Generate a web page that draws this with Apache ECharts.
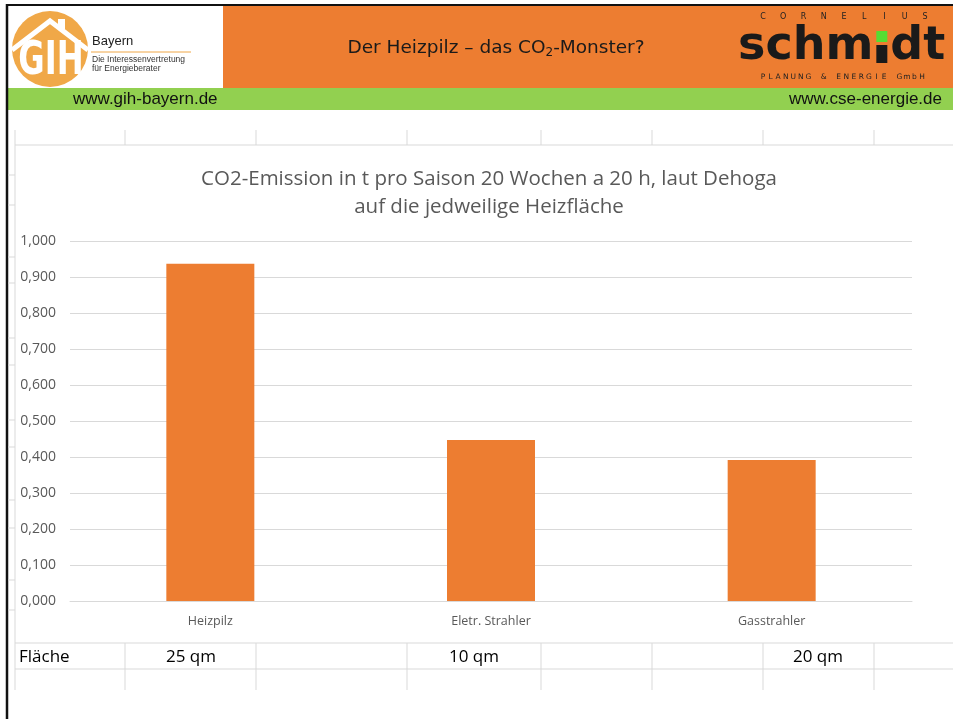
<!DOCTYPE html>
<html>
<head>
<meta charset="utf-8">
<script src="https://cdn.jsdelivr.net/npm/echarts@6/dist/echarts.min.js"></script>
<style>
  html, body { margin: 0; padding: 0; background: #fff; }
  #main { width: 953px; height: 719px; }
</style>
</head>
<body>
<div id="main"></div>
<script>
// Daten
var kategorien = ['Heizpilz', 'Eletr. Strahler', 'Gasstrahler'];
var emission = [0.937, 0.447, 0.392];
var flaeche = ['25 qm', '10 qm', '20 qm'];
var yTicks = [0, 0.1, 0.2, 0.3, 0.4, 0.5, 0.6, 0.7, 0.8, 0.9, 1.0];

var myChart = echarts.init(document.getElementById('main'));

var grau = '#d9d9d9';
var orange = '#ED7D31';
var gruen = '#92D050';

// Tabellenraster (Excel-Zellen rund um das Diagramm)
var spalten = [15, 125, 256, 407, 541, 652, 763, 874];
var raster = [];
spalten.forEach(function (x) {
  raster.push({ type: 'line', shape: { x1: x, y1: 130, x2: x, y2: 145 }, style: { stroke: grau, lineWidth: 1 } });
  raster.push({ type: 'line', shape: { x1: x, y1: 643, x2: x, y2: 690 }, style: { stroke: grau, lineWidth: 1 } });
});
raster.push({ type: 'line', shape: { x1: 15, y1: 145, x2: 953, y2: 145 }, style: { stroke: grau, lineWidth: 1 } });
raster.push({ type: 'line', shape: { x1: 15, y1: 145, x2: 15, y2: 643 }, style: { stroke: grau, lineWidth: 1 } });
raster.push({ type: 'line', shape: { x1: 15, y1: 643, x2: 953, y2: 643 }, style: { stroke: grau, lineWidth: 1 } });
raster.push({ type: 'line', shape: { x1: 15, y1: 669, x2: 953, y2: 669 }, style: { stroke: grau, lineWidth: 1 } });
// kleine Zeilenstriche links
[175, 205, 257, 283, 338, 365, 420, 447, 500, 528, 580, 610].forEach(function (y) {
  raster.push({ type: 'line', shape: { x1: 8, y1: y, x2: 15, y2: y }, style: { stroke: grau, lineWidth: 1 } });
});

// Fläche-Zeile
var flaecheX = [191, 474, 818];
var flaecheTexte = [{
  type: 'text', x: 19, y: 657,
  style: { text: 'Fläche', font: '17px "Open Sans", sans-serif', fill: '#000', verticalAlign: 'middle' }
}];
flaeche.forEach(function (t, i) {
  flaecheTexte.push({
    type: 'text', x: flaecheX[i], y: 657,
    style: { text: t, font: '17px "Open Sans", sans-serif', fill: '#000', align: 'center', verticalAlign: 'middle' }
  });
});

// gesperrte Schrift: Zeichen gleichmäßig zwischen x1 und x2 verteilen
function gesperrt(text, x1, x2, y, font) {
  var out = [];
  var n = text.length;
  for (var i = 0; i < n; i++) {
    if (text[i] === ' ') continue;
    out.push({
      type: 'text', x: x1 + (x2 - x1) * i / (n - 1), y: y,
      style: { text: text[i], font: font, fill: '#222', align: 'center', verticalAlign: 'middle' }
    });
  }
  return out;
}

// Breite für das Schmidt-Logo messen
var logoFont = 'bold 46px "DejaVu Sans", sans-serif';
var ctx = document.createElement('canvas').getContext('2d');
ctx.font = logoFont;
var wSchm = ctx.measureText('schm').width;
var logoX = 738;
var iX = logoX + wSchm + 3;

// Kopfbereich
var kopf = [
  { type: 'rect', shape: { x: 223, y: 6, width: 730, height: 82 }, style: { fill: orange } },
  { type: 'rect', shape: { x: 8, y: 88, width: 945, height: 22 }, style: { fill: gruen } },
  { type: 'line', shape: { x1: 6, y1: 5, x2: 953, y2: 5 }, style: { stroke: '#111', lineWidth: 2 } },
  { type: 'line', shape: { x1: 7, y1: 4, x2: 7, y2: 719 }, style: { stroke: '#111', lineWidth: 2.5 } },
  // GIH Logo
  { type: 'circle', shape: { cx: 50, cy: 49, r: 38 }, style: { fill: '#F0A848' } },
  { type: 'polyline', shape: { points: [[12, 50], [50, 21], [88, 50]] }, style: { stroke: '#fff', lineWidth: 5, fill: null } },
  { type: 'rect', shape: { x: 58, y: 19, width: 7, height: 10 }, style: { fill: '#fff' } },
  { type: 'text', x: 51, y: 62, scaleX: 0.7, style: { text: 'GIH', font: 'bold 46px "DejaVu Sans", sans-serif', fill: '#fff', align: 'center', verticalAlign: 'middle' } },
  { type: 'text', left: 92, top: 35, style: { text: 'Bayern', font: '13px "Liberation Sans", Arial, sans-serif', fill: '#222' } },
  { type: 'line', shape: { x1: 91, y1: 52, x2: 191, y2: 52 }, style: { stroke: '#F0A848', lineWidth: 1 } },
  { type: 'text', left: 92, top: 55, style: { text: 'Die Interessenvertretung', font: '8.5px "Liberation Sans", Arial, sans-serif', fill: '#333' } },
  { type: 'text', left: 92, top: 64, style: { text: 'für Energieberater', font: '8.5px "Liberation Sans", Arial, sans-serif', fill: '#333' } },
  // Titel
  {
    type: 'text', x: 496, y: 48,
    style: {
      text: 'Der Heizpilz – das CO{s|2}-Monster?',
      font: '18.5px "DejaVu Sans", Verdana, sans-serif', fill: '#1a1a1a', align: 'center', verticalAlign: 'middle',
      rich: { s: { fontSize: 12, fill: '#1a1a1a', padding: [10, 0, 0, 0], fontFamily: '"DejaVu Sans", Verdana, sans-serif' } }
    }
  },
  // Schmidt Logo
  { type: 'text', x: logoX, y: 47, style: { text: 'schm', font: logoFont, fill: '#1a1a1a', verticalAlign: 'middle' } },
  { type: 'rect', shape: { x: iX, y: 45, width: 11, height: 18 }, style: { fill: '#1a1a1a' } },
  { type: 'rect', shape: { x: iX, y: 31, width: 11, height: 11 }, style: { fill: '#55DD33' } },
  { type: 'text', x: iX + 14, y: 47, style: { text: 'dt', font: logoFont, fill: '#1a1a1a', verticalAlign: 'middle' } },
  // Webadressen
  { type: 'text', x: 73, y: 99, style: { text: 'www.gih-bayern.de', font: '17px "Liberation Sans", Arial, sans-serif', fill: '#111', verticalAlign: 'middle' } },
  { type: 'text', x: 942, y: 99, style: { text: 'www.cse-energie.de', font: '17px "Liberation Sans", Arial, sans-serif', fill: '#111', align: 'right', verticalAlign: 'middle' } }
];
kopf = kopf.concat(
  gesperrt('CORNELIUS', 763, 925, 17, '8px "DejaVu Sans", sans-serif'),
  gesperrt('PLANUNG & ENERGIE GmbH', 763, 922, 77, '7.5px "DejaVu Sans", sans-serif')
);

var option = {
  backgroundColor: '#fff',
  animation: false,
  title: {
    text: 'CO2-Emission in t pro Saison 20 Wochen a 20 h, laut Dehoga\nauf die jedweilige Heizfläche',
    left: 484,
    top: 160,
    textAlign: 'center',
    textStyle: {
      fontFamily: '"Open Sans", sans-serif',
      fontWeight: 'normal',
      fontSize: 20.5,
      lineHeight: 28,
      color: '#595959'
    }
  },
  grid: { left: 70, right: 41, top: 241, bottom: 118, containLabel: false },
  xAxis: {
    type: 'category',
    data: kategorien,
    axisLine: { lineStyle: { color: grau } },
    axisTick: { show: false },
    axisLabel: { color: '#595959', fontSize: 12.5, margin: 14, fontFamily: '"Open Sans", sans-serif' }
  },
  yAxis: {
    type: 'value',
    min: yTicks[0],
    max: yTicks[yTicks.length - 1],
    interval: 0.1,
    axisLine: { show: false },
    axisTick: { show: false },
    splitLine: { lineStyle: { color: grau } },
    axisLabel: {
      color: '#595959', fontSize: 14, margin: 14, fontFamily: '"Open Sans", sans-serif',
      formatter: function (v) { return v.toFixed(3).replace('.', ','); }
    }
  },
  series: [{
    name: 'CO2-Emission',
    type: 'bar',
    data: emission,
    barWidth: 88,
    itemStyle: { color: orange }
  }],
  graphic: kopf.concat(raster, flaecheTexte)
};

myChart.setOption(option);
</script>
</body>
</html>
